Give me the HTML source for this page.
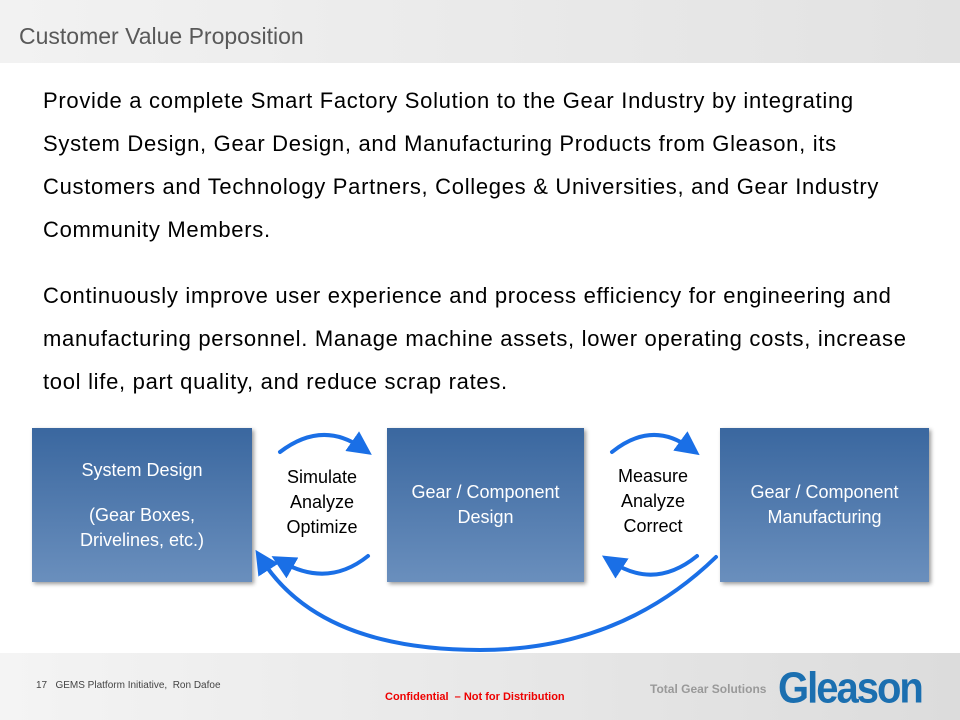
<!DOCTYPE html>
<html><head><meta charset="utf-8"><style>
body{margin:0;width:960px;height:720px;position:relative;overflow:hidden;background:#fff;font-family:"Liberation Sans",Arial,sans-serif}
.hdr{position:absolute;left:0;top:0;width:960px;height:63px;background:linear-gradient(90deg,#f2f2f2,#e2e2e2)}
.hdr span{position:absolute;left:19px;top:23px;font-size:23px;color:#595959}
.p{position:absolute;left:43px;width:910px;font-size:22px;letter-spacing:0.7px;line-height:43px;color:#000;white-space:nowrap}
.box{position:absolute;top:428px;height:154px;background:linear-gradient(#3a679f,#6a8fbd);color:#fff;font-size:18px;text-align:center;display:flex;flex-direction:column;justify-content:center;line-height:25px;box-shadow:2px 2px 4px rgba(0,0,0,.4)}
.lbl{position:absolute;font-size:18px;text-align:center;line-height:25px;color:#000}
.ftr{position:absolute;left:0;top:653px;width:960px;height:67px;background:linear-gradient(90deg,#f4f4f4,#dcdcdc)}
</style></head><body>
<div class="hdr"><span>Customer Value Proposition</span></div>
<div class="p" style="top:79px">Provide a complete Smart Factory Solution to the Gear Industry by integrating<br>System Design, Gear Design, and Manufacturing Products from Gleason, its<br>Customers and Technology Partners, Colleges &amp; Universities, and Gear Industry<br>Community Members.</div>
<div class="p" style="top:274px">Continuously improve user experience and process efficiency for engineering and<br>manufacturing personnel. Manage machine assets, lower operating costs, increase<br>tool life, part quality, and reduce scrap rates.</div>
<div class="box" style="left:32px;width:220px"><div>System Design</div><div style="height:20px"></div><div>(Gear Boxes,<br>Drivelines, etc.)</div></div>
<div class="box" style="left:387px;width:197px"><div>Gear / Component<br>Design</div></div>
<div class="box" style="left:720px;width:209px"><div>Gear / Component<br>Manufacturing</div></div>
<div class="lbl" style="left:262px;top:465px;width:120px">Simulate<br>Analyze<br>Optimize</div>
<div class="lbl" style="left:593px;top:464px;width:120px">Measure<br>Analyze<br>Correct</div>
<svg style="position:absolute;left:0;top:0" width="960" height="720">
<defs><marker id="a" markerWidth="6" markerHeight="6" refX="3" refY="3" orient="auto"><path d="M0,0L6,3L0,6z" fill="#1a6fe6"/></marker></defs>
<g fill="none" stroke="#1a6fe6" stroke-width="4" stroke-linecap="round">
<path d="M280,452 Q322,420 362,448" marker-end="url(#a)"/>
<path d="M368,556 Q328,588 282,562" marker-end="url(#a)"/>
<path d="M612,452 Q652,420 690,448" marker-end="url(#a)"/>
<path d="M697,556 Q655,590 612,562" marker-end="url(#a)"/>
<path d="M716,557 Q620,650 480,650 Q320,650 262,560" marker-end="url(#a)"/>
</g></svg>
<div class="ftr"></div>
<div style="position:absolute;left:36px;top:680px;font-size:10px;color:#444">17&nbsp;&nbsp; GEMS Platform Initiative,&nbsp; Ron Dafoe</div>
<div style="position:absolute;left:385px;top:691px;font-size:11px;color:#e00;font-weight:bold">Confidential&nbsp; – Not for Distribution</div>
<div style="position:absolute;left:650px;top:682px;font-size:12px;color:#999;font-weight:bold">Total Gear Solutions</div>
<div style="position:absolute;left:778px;top:664px;font-size:40px;color:#1b6fb0;font-weight:bold;letter-spacing:-2px;transform:scaleY(1.1);transform-origin:top left">Gleason</div>
</body></html>
